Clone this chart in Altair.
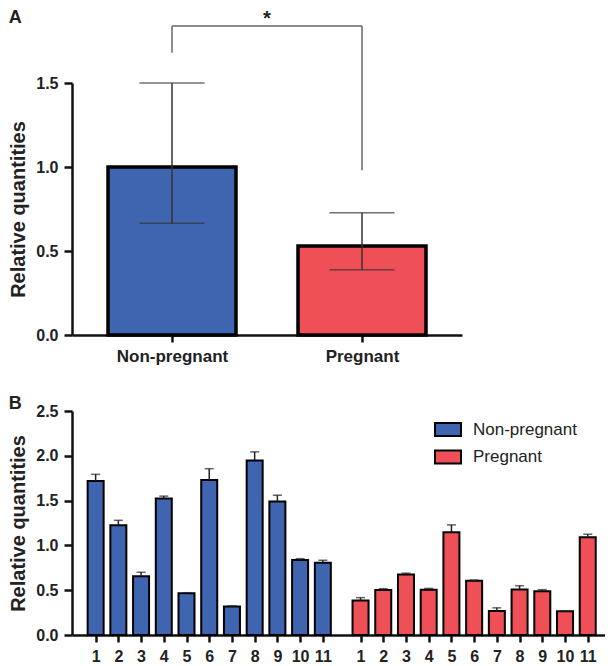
import altair as alt
import pandas as pd

# ---------------- Panel A data ----------------
groups = ["Non-pregnant", "Pregnant"]
a_mean = [1.00, 0.53]
a_low = [0.665, 0.388]
a_high = [1.50, 0.727]
# significance bracket (y values in data units)
bracket_top = 1.84
bracket_left_bottom = 1.68
bracket_right_bottom = 0.98
sig_label = "*"

# ---------------- Panel B data ----------------
samples = ["1", "2", "3", "4", "5", "6", "7", "8", "9", "10", "11"]
np_mean = [1.72, 1.225, 0.657, 1.524, 0.465, 1.73, 0.317, 1.948, 1.49, 0.838, 0.805]
np_high = [1.793, 1.28, 0.70, 1.55, 0.472, 1.856, 0.325, 2.044, 1.56, 0.852, 0.834]
p_mean = [0.384, 0.502, 0.675, 0.506, 1.148, 0.605, 0.269, 0.509, 0.487, 0.266, 1.092]
p_high = [0.417, 0.517, 0.69, 0.52, 1.229, 0.613, 0.303, 0.55, 0.506, 0.266, 1.125]

BLUE = "#3f65b0"
RED = "#ef4f56"
FONT = "Liberation Sans"
INK = "#222222"
GAP = 11.66  # position offset of the second group in panel B

color_scale = alt.Scale(domain=groups, range=[BLUE, RED])


def yaxis(values, title):
    return alt.Axis(values=values, format=".1f", title=title, grid=False,
                    domainColor="#111", domainWidth=2.5, tickColor="#111",
                    tickWidth=2.5, tickSize=8,
                    labelFont=FONT, labelFontSize=16, labelFontWeight="bold",
                    labelColor=INK, labelPadding=6,
                    titleFont=FONT, titleFontSize=20, titleFontWeight="bold",
                    titleColor=INK, titlePadding=7)


# ---------------- Panel A ----------------
dfa = pd.DataFrame({
    "pos": [1, 2],
    "group": groups,
    "mean": a_mean,
    "low": a_low,
    "high": a_high,
})
label_a = f"datum.value == 1 ? '{groups[0]}' : '{groups[1]}'"
axisXA = alt.Axis(values=[1, 2], labelExpr=label_a, title=None, grid=False,
                  domainColor="#111", domainWidth=2.5, tickColor="#111",
                  tickWidth=2.5, tickSize=7, labelFont=FONT, labelFontSize=17,
                  labelFontWeight="bold", labelColor=INK, labelPadding=6)
xscaleA = alt.Scale(domain=[0.5, 2.5], nice=False, zero=False)
yscaleA = alt.Scale(domain=[0, 1.5], nice=False)
axisYA = yaxis([0, 0.5, 1.0, 1.5], "Relative quantities")


def xa(field):
    return alt.X(field, scale=xscaleA, axis=axisXA)


def ya(field):
    return alt.Y(field, scale=yscaleA, axis=axisYA)


barsA = alt.Chart(dfa).mark_bar(size=128, stroke="black", strokeWidth=3.5).encode(
    x=xa("pos:Q"), y=ya("mean:Q"),
    color=alt.Color("group:N", scale=color_scale, legend=None),
)
errA = alt.Chart(dfa).mark_rule(color="#333", strokeWidth=1.5).encode(
    x=xa("pos:Q"), y=ya("low:Q"), y2="high:Q")
capHiA = alt.Chart(dfa).mark_tick(orient="horizontal", size=65, thickness=1.5, color="#333").encode(
    x=xa("pos:Q"), y=ya("high:Q"))
capLoA = alt.Chart(dfa).mark_tick(orient="horizontal", size=65, thickness=1.5, color="#333").encode(
    x=xa("pos:Q"), y=ya("low:Q"))

dfbr = pd.DataFrame({
    "x": [1, 1, 2],
    "x2": [2, 1, 2],
    "y": [bracket_top, bracket_left_bottom, bracket_right_bottom],
    "y2": [bracket_top, bracket_top, bracket_top],
})
bracket = alt.Chart(dfbr).mark_rule(color="#666", strokeWidth=1.5).encode(
    x=xa("x:Q"), x2="x2:Q", y=ya("y:Q"), y2="y2:Q")
dfsig = pd.DataFrame({"x": [(dfa["pos"][0] + dfa["pos"][1]) / 2], "y": [bracket_top], "t": [sig_label]})
star = alt.Chart(dfsig).mark_text(font=FONT, fontSize=20, fontWeight="bold", color=INK,
                                  baseline="alphabetic", align="center", dy=-1).encode(
    x=xa("x:Q"), y=ya("y:Q"), text="t:N")

panelA = alt.layer(barsA, errA, capHiA, capLoA, bracket, star).properties(
    width=390, height=252,
    title=alt.TitleParams("A", anchor="start", frame="bounds", font=FONT, fontSize=18,
                          fontWeight="bold", color=INK, offset=-18),
)

# ---------------- Panel B ----------------
rows = []
for i, s in enumerate(samples):
    rows.append({"pos": i + 1, "sample": s, "group": groups[0], "mean": np_mean[i], "high": np_high[i]})
for i, s in enumerate(samples):
    rows.append({"pos": i + 1 + GAP, "sample": s, "group": groups[1], "mean": p_mean[i], "high": p_high[i]})
dfb = pd.DataFrame(rows)

tick_positions = list(dfb["pos"])
label_b = f"datum.value > 12 ? round(datum.value - {GAP}) : datum.value"
axisXB = alt.Axis(values=tick_positions, labelExpr=label_b, title=None, grid=False,
                  domainColor="#111", domainWidth=2.5, tickColor="#111",
                  tickWidth=2.5, tickSize=7, labelFont=FONT, labelFontSize=16,
                  labelFontWeight="bold", labelColor=INK, labelPadding=6,
                  labelOverlap=False)
xscaleB = alt.Scale(domain=[0.18, 23.2], nice=False, zero=False)
yscaleB = alt.Scale(domain=[0, 2.5], nice=False)
axisYB = yaxis([0, 0.5, 1.0, 1.5, 2.0, 2.5], "Relative quantities")


def xb(field):
    return alt.X(field, scale=xscaleB, axis=axisXB)


def yb(field):
    return alt.Y(field, scale=yscaleB, axis=axisYB)


barsB = alt.Chart(dfb).mark_bar(size=16, stroke="black", strokeWidth=2).encode(
    x=xb("pos:Q"), y=yb("mean:Q"),
    color=alt.Color("group:N", scale=color_scale,
                    legend=alt.Legend(title=None, orient="none", legendX=362, legendY=4.5,
                                      symbolType="M-1,-0.5H1V0.5H-1Z", symbolSize=676,
                                      symbolStrokeColor="black", symbolStrokeWidth=2,
                                      symbolOpacity=1,
                                      labelFont=FONT, labelFontSize=17, labelColor=INK,
                                      labelOffset=11, rowPadding=2.5)),
)
errB = alt.Chart(dfb).mark_rule(color=INK, strokeWidth=1.5).encode(
    x=xb("pos:Q"), y=yb("mean:Q"), y2="high:Q")
capB = alt.Chart(dfb).mark_tick(orient="horizontal", size=9, thickness=1.5, color=INK).encode(
    x=xb("pos:Q"), y=yb("high:Q"))

panelB = alt.layer(barsB, errB, capB).properties(
    width=533, height=224,
    title=alt.TitleParams("B", anchor="start", frame="bounds", font=FONT, fontSize=18,
                          fontWeight="bold", color=INK, offset=-10),
)

chart = alt.vconcat(panelA, panelB, spacing=31, padding=0).resolve_scale(
    color="independent"
).configure_view(stroke=None)

chart.save("out.html", embed_options={"renderer": "svg", "actions": False})
